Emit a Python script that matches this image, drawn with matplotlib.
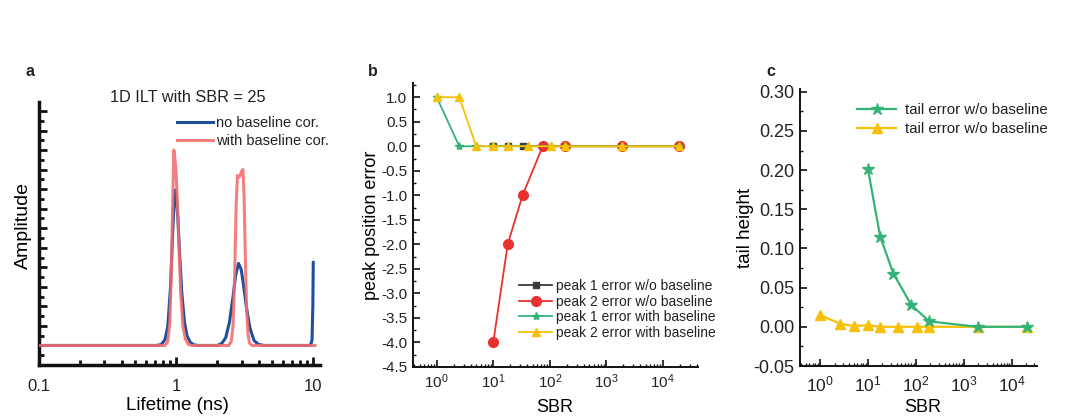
import matplotlib
matplotlib.use('Agg')
import matplotlib.pyplot as plt
from matplotlib.ticker import MultipleLocator, LogLocator, NullFormatter, FormatStrFormatter

plt.rcParams['font.family'] = ['Liberation Sans', 'DejaVu Sans']
plt.rcParams['axes.unicode_minus'] = False
plt.rcParams['mathtext.fontset'] = 'custom'
plt.rcParams['mathtext.rm'] = 'Liberation Sans'
plt.rcParams['mathtext.it'] = 'Liberation Sans:italic'
plt.rcParams['mathtext.bf'] = 'Liberation Sans:bold'
plt.rcParams['text.color'] = '#222222'

# ---------------- data ----------------
# panel a
lifetime_blue = [0.1, 0.5, 0.72, 0.78, 0.83, 0.87, 0.91, 0.94, 0.97, 0.985, 1.0, 1.03, 1.06, 1.1,
                 1.15, 1.2, 1.27, 1.35, 1.45, 2.0, 2.15, 2.3, 2.45, 2.6, 2.72, 2.85, 2.98, 3.1,
                 3.25, 3.45, 3.7, 4.0, 4.4, 9.3, 9.6, 9.8, 9.93, 10.0]
amp_blue = [0, 0, 0, 0.005, 0.03, 0.1, 0.3, 0.55, 0.76, 0.795, 0.77, 0.65, 0.47, 0.27,
            0.12, 0.05, 0.015, 0.003, 0, 0, 0.01, 0.04, 0.12, 0.25, 0.36, 0.42, 0.39, 0.31,
            0.2, 0.09, 0.025, 0.005, 0, 0, 0.005, 0.03, 0.2, 0.425]
lifetime_red = [0.1, 0.5, 0.83, 0.87, 0.90, 0.925, 0.945, 0.962, 0.975, 0.99, 1.0, 1.02, 1.05,
                1.08, 1.12, 1.17, 1.23, 1.3, 2.42, 2.52, 2.6, 2.67, 2.74, 2.80, 2.86, 2.93,
                3.0, 3.07, 3.13, 3.19, 3.26, 3.34, 3.43, 3.58, 10.3]
amp_red = [0, 0, 0, 0.02, 0.12, 0.4, 0.75, 1.0, 0.97, 0.92, 0.88, 0.75, 0.5,
           0.27, 0.1, 0.03, 0.005, 0, 0, 0.02, 0.1, 0.35, 0.72, 0.87, 0.86, 0.87,
           0.89, 0.9, 0.77, 0.48, 0.2, 0.06, 0.012, 0, 0]
a_xticks = [0.1, 1, 10]
a_xticklabels = ['0.1', '1', '10']
a_labels = ['no baseline cor.', 'with baseline cor.']

# panel b
sbr_wo = [10, 18, 33, 75, 185, 1900, 19500]
err_p1_wo = [0, 0, 0, 0, 0, 0, 0]
err_p2_wo = [-4, -2, -1, 0, 0, 0, 0]
sbr_with = [1, 2.5, 5, 10, 18, 42, 105, 185, 1900, 19500]
err_p1_with = [1, 0, 0, 0, 0, 0, 0, 0, 0, 0]
err_p2_with = [1, 1, 0, 0, 0, 0, 0, 0, 0, 0]
b_labels = ['peak 1 error w/o baseline', 'peak 2 error w/o baseline',
            'peak 1 error with baseline', 'peak 2 error with baseline']

# panel c
sbr_tail_wo = [10, 18, 34, 80, 190, 1950, 21000]
tail_wo = [0.201, 0.115, 0.068, 0.028, 0.007, 0.0, 0.0]
sbr_tail_with = [1, 2.6, 5, 10, 18, 42, 108, 190, 1950, 21000]
tail_with = [0.015, 0.004, 0.001, 0.002, 0.0, 0.0, 0.0, 0.0, 0.0, 0.0]
c_labels = ['tail error w/o baseline', 'tail error w/o baseline']

# ---------------- figure ----------------
W, H = 1086, 419
fig = plt.figure(figsize=(W / 100, H / 100), dpi=100)
fig.patch.set_facecolor('white')


def axes_px(x0, y0, x1, y1):
    return fig.add_axes([x0 / W, 1 - y1 / H, (x1 - x0) / W, (y1 - y0) / H])


def place_xlabel(ax, cx, cy):
    ax.xaxis.set_label_coords(cx / W, 1 - cy / H, transform=fig.transFigure)
    ax.xaxis.label.set_va('center')


def place_ylabel(ax, cx, cy):
    ax.yaxis.set_label_coords(cx / W, 1 - cy / H, transform=fig.transFigure)
    ax.yaxis.label.set_va('center')


BLUE = '#1d4f9a'
LRED = '#f36c6c'
DARK = '#3a3a3a'
RED = '#e8322f'
GREEN = '#34b378'
YELLOW = '#f6c106'
TXT = '#222222'

# ---- panel a ----
axa = axes_px(39, 102, 320, 365)
axa.plot(lifetime_blue, amp_blue, color=BLUE, lw=2.2, label=a_labels[0], zorder=2)
axa.plot(lifetime_red, amp_red, color=LRED, lw=2.2, alpha=0.88, label=a_labels[1], zorder=3)
axa.set_xscale('log')
axa.set_xlim(0.1, 11.2)
axa.set_ylim(-0.1, 1.246)
axa.set_xticks(a_xticks, labels=a_xticklabels)
axa.xaxis.set_minor_locator(LogLocator(base=10, subs=range(2, 10)))
axa.xaxis.set_minor_formatter(NullFormatter())
axa.yaxis.set_major_locator(MultipleLocator(0.1))
axa.yaxis.set_minor_locator(MultipleLocator(0.05))
axa.yaxis.set_major_formatter(NullFormatter())
for s in ['top', 'right']:
    axa.spines[s].set_visible(False)
for s in ['left', 'bottom']:
    axa.spines[s].set_linewidth(2.5)
    axa.spines[s].set_color('#111111')
axa.tick_params(which='major', direction='in', length=6, width=2, labelsize=12, colors='#111111',
                labelcolor=TXT, pad=10)
axa.tick_params(which='minor', direction='in', length=3.5, width=2, colors='#111111')
axa.set_xlabel('Lifetime (ns)', fontsize=13.5)
axa.set_ylabel('Amplitude', fontsize=14)
place_xlabel(axa, 177, 405)
place_ylabel(axa, 23, 225)
axa.text(188 / W, 1 - 98 / H, '1D ILT with SBR = 25', transform=fig.transFigure,
         ha='center', va='center', fontsize=11.7)
axa.legend(loc='upper left', bbox_to_anchor=((177 - 39) / 281, (365 - 116) / 263),
           frameon=False, fontsize=10.5, handlelength=2.5, handletextpad=0.15,
           borderpad=0, borderaxespad=0, labelspacing=0.25)

# ---- panel b ----
axb = axes_px(413, 83, 698, 367)
axb.plot(sbr_wo, err_p1_wo, color=DARK, marker='s', ms=5, lw=1.3, label=b_labels[0], zorder=3)
axb.plot(sbr_wo, err_p2_wo, color=RED, marker='o', ms=7, lw=1.3, label=b_labels[1], zorder=4)
axb.plot(sbr_with, err_p1_with, color=GREEN, marker='*', ms=6, lw=1.3, label=b_labels[2], zorder=5)
axb.plot(sbr_with, err_p2_with, color=YELLOW, marker='^', ms=6, lw=1.3, label=b_labels[3], zorder=6)
axb.set_xscale('log')
axb.set_xlim(0.38, 4.2e4)
axb.set_ylim(-4.5, 1.29)
axb.xaxis.set_major_locator(LogLocator(base=10, numticks=10))
axb.xaxis.set_minor_locator(LogLocator(base=10, subs=range(2, 10), numticks=20))
axb.xaxis.set_minor_formatter(NullFormatter())
axb.yaxis.set_major_locator(MultipleLocator(0.5))
axb.yaxis.set_minor_locator(MultipleLocator(0.25))
axb.yaxis.set_major_formatter(FormatStrFormatter('%.1f'))
for s in ['top', 'right']:
    axb.spines[s].set_visible(False)
for s in ['left', 'bottom']:
    axb.spines[s].set_linewidth(1.4)
    axb.spines[s].set_color('#111111')
axb.tick_params(which='major', direction='in', length=5, width=1.2, labelsize=11, colors='#111111',
                labelcolor=TXT, pad=4)
axb.tick_params(which='minor', direction='in', length=2.5, width=1, colors='#111111')
axb.set_xlabel('SBR', fontsize=13)
axb.set_ylabel('peak position error', fontsize=13)
place_xlabel(axb, 555, 407)
place_ylabel(axb, 372, 225)
axb.legend(loc='upper left', bbox_to_anchor=((519 - 413) / 285, (367 - 279) / 284),
           frameon=False, fontsize=10, handlelength=2.4, handletextpad=0.25,
           borderpad=0, borderaxespad=0, labelspacing=0.12)

# ---- panel c ----
axc = axes_px(800, 89, 1037, 366)
axc.plot(sbr_tail_wo, tail_wo, color=GREEN, marker='*', ms=9, lw=1.6, label=c_labels[0], zorder=3)
axc.plot(sbr_tail_with, tail_with, color=YELLOW, marker='^', ms=6.5, lw=1.6, label=c_labels[1], zorder=2)
axc.set_xscale('log')
axc.set_xlim(0.38, 3.4e4)
axc.set_ylim(-0.05, 0.3035)
axc.xaxis.set_major_locator(LogLocator(base=10, numticks=10))
axc.xaxis.set_minor_locator(LogLocator(base=10, subs=range(2, 10), numticks=20))
axc.xaxis.set_minor_formatter(NullFormatter())
axc.yaxis.set_major_locator(MultipleLocator(0.05))
axc.yaxis.set_minor_locator(MultipleLocator(0.025))
axc.yaxis.set_major_formatter(FormatStrFormatter('%.2f'))
for s in ['top', 'right']:
    axc.spines[s].set_visible(False)
for s in ['left', 'bottom']:
    axc.spines[s].set_linewidth(1.4)
    axc.spines[s].set_color('#111111')
axc.tick_params(which='major', direction='in', length=5, width=1.2, labelsize=13, colors='#111111',
                labelcolor=TXT, pad=4)
axc.tick_params(which='minor', direction='in', length=2.5, width=1, colors='#111111')
axc.tick_params(axis='x', which='major', labelsize=12.5, pad=6)
axc.set_xlabel('SBR', fontsize=13)
axc.set_ylabel('tail height', fontsize=13.5)
place_xlabel(axc, 923, 407)
place_ylabel(axc, 745, 228)
axc.legend(loc='upper left', bbox_to_anchor=((857 - 800) / 237, (366 - 103) / 277),
           frameon=False, fontsize=10.8, handlelength=2.6, handletextpad=0.6,
           borderpad=0, borderaxespad=0, labelspacing=0.35)

# panel letters
for lab, x, y in [('a', 30, 71), ('b', 373, 72), ('c', 771, 72)]:
    fig.text(x / W, 1 - y / H, lab, fontsize=11.5, fontweight='bold', ha='center', va='center')

fig.savefig('out.png', dpi=100, facecolor='white')
